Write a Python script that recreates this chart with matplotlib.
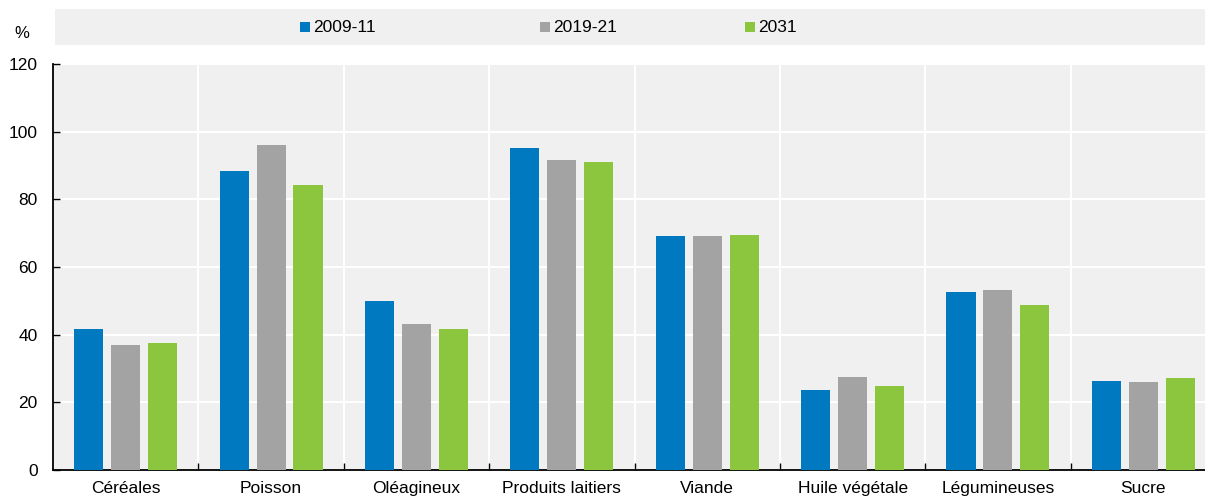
import matplotlib
matplotlib.use("Agg")
import matplotlib.pyplot as plt
import numpy as np
from matplotlib.patches import Rectangle

plt.rcParams['font.family'] = ['Liberation Sans Narrow', 'Liberation Sans', 'DejaVu Sans']
plt.rcParams['font.size'] = 12

categories = ["Céréales", "Poisson", "Oléagineux", "Produits laitiers", "Viande",
              "Huile végétale", "Légumineuses", "Sucre"]
series = ["2009-11", "2019-21", "2031"]
v2009 = [41.6, 88.3, 50.0, 95.3, 69.1, 23.5, 52.7, 26.4]
v2019 = [36.8, 96.0, 43.1, 91.5, 69.1, 27.6, 53.2, 26.1]
v2031 = [37.6, 84.3, 41.7, 91.1, 69.6, 24.8, 48.8, 27.3]
colors = ["#0079C1", "#A3A3A3", "#8CC63F"]

fig = plt.figure(figsize=(12.05, 4.96), dpi=100)
ax = fig.add_axes([53/1205, 1 - 470/496, 1163/1205, 406/496])
ax.set_facecolor("#F0F0F0")

x = np.arange(len(categories))
for i, (vals, c) in enumerate(zip([v2009, v2019, v2031], colors)):
    ax.bar(x + (i - 1) * 0.254, vals, width=0.2, color=c, zorder=3)

ax.set_xlim(-0.5, len(categories) - 0.5)
ax.set_ylim(0, 120)
ax.set_yticks(np.arange(0, 121, 20))
ax.set_xticks(x)
ax.set_xticklabels(categories, fontsize=12.5)
ax.set_xticks(np.arange(0.5, len(categories) - 0.5, 1), minor=True)
ax.tick_params(axis='x', which='major', length=0, pad=8)
ax.tick_params(axis='x', which='minor', direction='in', length=5, width=1)
ax.tick_params(axis='y', direction='in', length=5, width=1, pad=11, labelsize=12.5)
ax.grid(axis='y', color='white', linewidth=1.5, zorder=1)
ax.grid(axis='x', which='minor', color='white', linewidth=1.5, zorder=1)
ax.set_axisbelow(True)
for s in ['top', 'right']:
    ax.spines[s].set_visible(False)
for s in ['left', 'bottom']:
    ax.spines[s].set_linewidth(1.3)

fig.text(22/1205, 1 - 33/496, "%", ha='center', va='center')

# legend band
fig.patches.append(Rectangle((55/1205, 1 - 45/496), 1150/1205, 36/496,
                             transform=fig.transFigure, facecolor="#F0F0F0",
                             edgecolor='none', zorder=0))
leg_x = [300, 540, 745]
for lx, name, c in zip(leg_x, series, colors):
    fig.patches.append(Rectangle((lx/1205, 1 - 32/496), 10/1205, 10/496,
                                 transform=fig.transFigure, facecolor=c,
                                 edgecolor='none', zorder=1))
    fig.text((lx + 13)/1205, 1 - 27/496, name, ha='left', va='center', fontsize=12.5)

fig.savefig("out.png", dpi=100)
